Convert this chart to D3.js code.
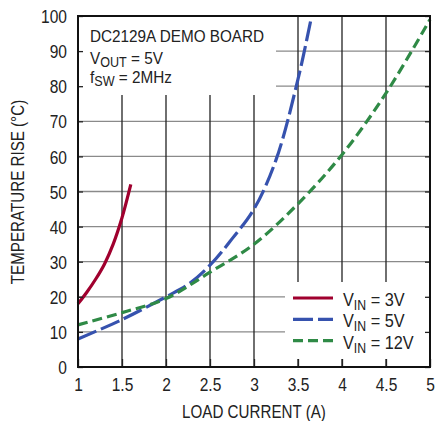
<!DOCTYPE html>
<html><head><meta charset="utf-8">
<script src="https://cdn.jsdelivr.net/npm/d3@7"></script>
<style>
body{margin:0;background:#fff;}
text{font-family:"Liberation Sans",Arial,sans-serif;fill:#222;}
</style></head>
<body><svg id="c" width="435" height="421"></svg>
<script>
const xTicks = [1,1.5,2,2.5,3,3.5,4,4.5,5];
const xTickLabels = ["1","1.5","2","2.5","3","3.5","4","4.5","5"];
const yTicks = [0,10,20,30,40,50,60,70,80,90,100];

const current3V = [1, 1.1, 1.2, 1.3, 1.4, 1.5, 1.6];
const temp3V    = [18, 21.3, 25, 29.3, 35, 42.5, 52];
const current5V = [1, 1.5, 2, 2.25, 2.5, 2.75, 3, 3.25, 3.5, 3.655];
const temp5V    = [8, 13.5, 20, 23.5, 29, 36.5, 45, 59, 82, 100];
const current12V = [1, 1.5, 2, 2.5, 3, 3.5, 4, 4.5, 5];
const temp12V    = [12, 15.5, 19.5, 27, 35, 46.5, 60.5, 78, 99];

const seriesNames = ["3V","5V","12V"];
const seriesColors = ["#a0002e","#3652ae","#2f8a46"];
const seriesDash = [null,"20,5","10,5"];

const svg = d3.select("#c");
const L=78,R=430,T=16,B=367;
const x = d3.scaleLinear().domain([1,5]).range([L,R]);
const y = d3.scaleLinear().domain([0,100]).range([B,T]);
const SX = 0.84;

// grid
svg.append("g").selectAll("line").data(yTicks.slice(1,-1)).join("line")
  .attr("x1",L).attr("x2",R).attr("y1",d=>y(d)).attr("y2",d=>y(d))
  .attr("stroke","#8a8a8a").attr("stroke-width",1.3);
svg.append("g").selectAll("line").data(xTicks.slice(1,-1)).join("line")
  .attr("y1",T).attr("y2",B).attr("x1",d=>x(d)).attr("x2",d=>x(d))
  .attr("stroke","#222").attr("stroke-width",1.3);

// curves
const data = [
  d3.zip(current3V,temp3V),
  d3.zip(current5V,temp5V),
  d3.zip(current12V,temp12V)
];
const line = d3.line().x(d=>x(d[0])).y(d=>y(d[1])).curve(d3.curveCatmullRom.alpha(0.5));
data.forEach((d,i)=>{
  svg.append("path").attr("d",line(d)).attr("fill","none")
    .attr("stroke",seriesColors[i]).attr("stroke-width",3.2)
    .attr("stroke-dasharray",seriesDash[i]);
});

// white boxes
svg.append("rect").attr("x",L).attr("y",T).attr("width",276-L).attr("height",95-T).attr("fill","#fff");
svg.append("rect").attr("x",285).attr("y",282).attr("width",R-285).attr("height",359-282).attr("fill","#fff");

// title text (horizontally condensed)
function cond(sel, x0){ return sel.attr("transform",`translate(${x0},0) scale(0.9,1)`).attr("x",0); }
const fs = "17px";
const tb = cond(svg.append("text"),90).attr("y",42).style("font-size",fs);
tb.append("tspan").text("DC2129A DEMO BOARD");
const t2 = cond(svg.append("text"),90).attr("y",64).style("font-size",fs);
t2.append("tspan").text("V");
t2.append("tspan").attr("dy",3).style("font-size","14px").text("OUT");
t2.append("tspan").attr("dy",-3).text(" = 5V");
const t3 = cond(svg.append("text"),90).attr("y",83).style("font-size",fs);
t3.append("tspan").text("f");
t3.append("tspan").attr("dy",3).style("font-size","14px").text("SW");
t3.append("tspan").attr("dy",-3).text(" = 2MHz");

// legend
seriesNames.forEach((n,i)=>{
  const yy = 298 + i*21.3;
  svg.append("line").attr("x1",293).attr("x2",333).attr("y1",yy).attr("y2",yy)
    .attr("stroke",seriesColors[i]).attr("stroke-width",3.2)
    .attr("stroke-dasharray",seriesDash[i]);
  const t = svg.append("text").attr("transform",`translate(343,0) scale(0.88,1)`).attr("x",0).attr("y",yy+8).style("font-size","18.5px");
  t.append("tspan").text("V");
  t.append("tspan").attr("dy",4).style("font-size","14px").text("IN");
  t.append("tspan").attr("dy",-4).text(" = "+n);
});

// axes
const axL = d3.axisLeft(y).tickValues(yTicks).tickSizeInner(-5).tickSizeOuter(0).tickPadding(11/SX);
const gL = svg.append("g").attr("transform",`translate(${L},0)`).call(axL);
const axR = d3.axisRight(y).tickValues(yTicks).tickSizeInner(-5).tickSizeOuter(0).tickFormat("");
const gR = svg.append("g").attr("transform",`translate(${R},0)`).call(axR);
const axB = d3.axisBottom(x).tickValues(xTicks).tickFormat((d,i)=>xTickLabels[i]).tickSizeInner(-8).tickSizeOuter(0).tickPadding(11);
const gB = svg.append("g").attr("transform",`translate(0,${B})`).call(axB);
[gL,gR,gB].forEach(g=>{
  g.select(".domain").remove();
  g.selectAll("line").attr("stroke","#222").attr("stroke-width",1.3);
  g.selectAll("text").style("font-size","18.5px").attr("fill","#222").attr("transform",`scale(${SX},1)`);
});
gB.selectAll("text").attr("dy","0.71em");
gL.selectAll("text").attr("dy","0.36em");

// border
svg.append("rect").attr("x",L).attr("y",T).attr("width",R-L).attr("height",B-T)
  .attr("fill","none").attr("stroke","#111").attr("stroke-width",2);

// axis titles
svg.append("text").attr("transform","translate(254,418) scale(0.82,1)").attr("text-anchor","middle").style("font-size","18.5px").text("LOAD CURRENT (A)");
svg.append("text").attr("transform","translate(23.5,192) rotate(-90) scale(0.82,1)").attr("text-anchor","middle").style("font-size","18.5px").text("TEMPERATURE RISE (°C)");
</script></body></html>
